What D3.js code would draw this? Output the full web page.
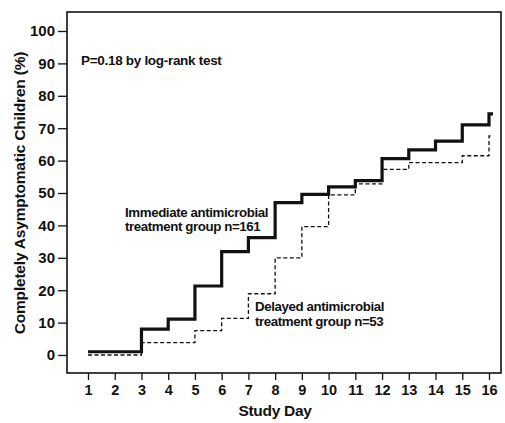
<!DOCTYPE html>
<html>
<head>
<meta charset="utf-8">
<script src="https://cdn.jsdelivr.net/npm/d3@7"></script>
<style>
body { margin:0; background:#fff; }
text { font-family: "Liberation Sans", Arial, sans-serif; font-weight: bold; fill:#111; }
</style>
</head>
<body>
<svg id="chart"></svg>
<script>
// step points (percent completely asymptomatic)
var immediateDays = [1, 3, 4, 5, 6, 7, 8, 9, 10, 11, 12, 13, 14, 15, 16]
var immediateVals = [1, 8, 11.1, 21.3, 31.9, 36.2, 47, 49.6, 51.9, 53.8, 60.6, 63.3, 66, 71, 74.4]
var delayedDays = [1, 3, 5, 6, 7, 8, 9, 10, 11, 12, 13, 15, 16]
var delayedVals = [0, 3.8, 7.5, 11.3, 18.9, 30, 39.6, 49.4, 52.8, 57.3, 59.4, 61.5, 67.6]
var xTicks = d3.range(1, 17)
var yTicks = d3.range(0, 101, 10)
var lastDay = 16.15

var screen = {width:505, height:423}
var box = {left:67, top:12, right:501, bottom:373}

var svg = d3.select("#chart")
    .attr("width", screen.width)
    .attr("height", screen.height)

var xScale = d3.scaleLinear().domain([1,16]).range([88,489])
var yScale = d3.scaleLinear().domain([0,100]).range([355,31])

// frame
svg.append("rect")
    .attr("x", box.left).attr("y", box.top)
    .attr("width", box.right-box.left).attr("height", box.bottom-box.top)
    .attr("fill","none").attr("stroke","#111").attr("stroke-width",1.6)

// y axis ticks outside the frame
var yAxis = d3.axisLeft(yScale).tickValues(yTicks).tickSize(9).tickPadding(3)
var yg = svg.append("g").attr("transform","translate("+box.left+",0)").call(yAxis)
yg.select(".domain").remove()
yg.selectAll("line").attr("stroke","#111").attr("stroke-width",1.3)
yg.selectAll("text").style("font-size","15px").style("font-family","Liberation Sans, Arial").style("font-weight","bold").attr("fill","#111")

var xAxis = d3.axisBottom(xScale).tickValues(xTicks).tickSize(7).tickPadding(5)
var xg = svg.append("g").attr("transform","translate(0,"+box.bottom+")").call(xAxis)
xg.select(".domain").remove()
xg.selectAll("line").attr("stroke","#111").attr("stroke-width",1.3)
xg.selectAll("text").style("font-size","14.5px").style("font-family","Liberation Sans, Arial").style("font-weight","bold").attr("fill","#111")

var line = d3.line()
    .x(function(d){ return xScale(d[0]) })
    .y(function(d){ return yScale(d[1]) })
    .curve(d3.curveStepAfter)

var toPts = function(days, vals)
{
    var pts = days.map(function(d,i){ return [d, vals[i]] })
    pts.push([lastDay, vals[vals.length-1]])
    return pts
}

svg.append("path")
    .datum(toPts(delayedDays, delayedVals))
    .attr("d", line)
    .attr("fill","none").attr("stroke","#111").attr("stroke-width",1.3)
    .attr("stroke-dasharray","4,2.5")

svg.append("path")
    .datum(toPts(immediateDays, immediateVals))
    .attr("d", line)
    .attr("fill","none").attr("stroke","#111").attr("stroke-width",3.2)

// annotations
svg.append("text").attr("x",81).attr("y",65).style("font-size","13.5px").style("letter-spacing","-0.3px")
    .text("P=0.18 by log-rank test")

svg.append("text").attr("x",125).attr("y",217).style("font-size","13.3px").style("letter-spacing","-0.4px")
    .text("Immediate antimicrobial")
svg.append("text").attr("x",125).attr("y",231).style("font-size","13.3px").style("letter-spacing","-0.4px")
    .text("treatment group n=161")

svg.append("text").attr("x",255).attr("y",311).style("font-size","13.3px").style("letter-spacing","-0.4px")
    .text("Delayed antimicrobial")
svg.append("text").attr("x",255).attr("y",326).style("font-size","13.3px").style("letter-spacing","-0.4px")
    .text("treatment group n=53")

// axis titles
svg.append("text").attr("x",275).attr("y",416).attr("text-anchor","middle").style("font-size","15.5px").style("letter-spacing","-0.3px")
    .text("Study Day")

svg.append("text")
    .attr("transform","translate(25,193) rotate(-90)")
    .attr("text-anchor","middle").style("font-size","15.5px").style("letter-spacing","-0.2px")
    .text("Completely Asymptomatic Children (%)")
</script>
</body>
</html>
